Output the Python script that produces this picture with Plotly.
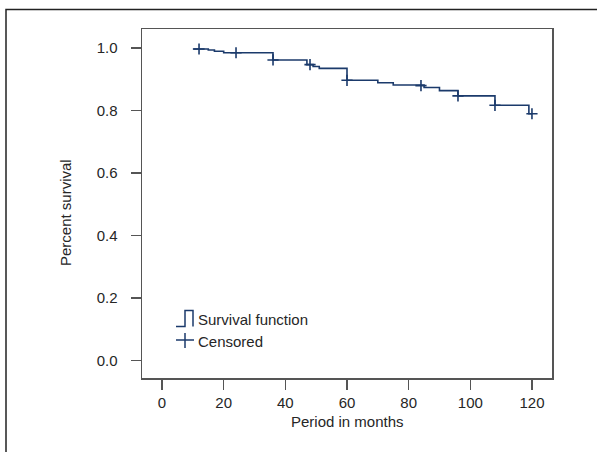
import plotly.graph_objects as go

# Kaplan-Meier step data (time in months, survival after the step)
step_times = [10, 15, 17, 20, 36, 47, 49, 51, 60, 70, 75, 85, 90, 96, 108, 119, 120]
step_surv = [0.996, 0.993, 0.989, 0.984, 0.961, 0.946, 0.940, 0.934, 0.896,
             0.888, 0.881, 0.873, 0.863, 0.846, 0.816, 0.789, 0.789]

# Censored observations
cens_times = [12, 24, 36, 48, 60, 84, 96, 108, 120]
cens_surv = [0.996, 0.984, 0.961, 0.946, 0.896, 0.879, 0.846, 0.816, 0.789]

x_ticks = [0, 20, 40, 60, 80, 100, 120]
y_ticks = [0.0, 0.2, 0.4, 0.6, 0.8, 1.0]
y_tick_labels = ["0.0", "0.2", "0.4", "0.6", "0.8", "1.0"]

legend_labels = ["Survival function", "Censored"]
x_title = "Period in months"
y_title = "Percent survival"

LINE = "#1b3a6b"
AXIS = "#555555"
TXT = "#262626"
FONT = "Liberation Sans Narrow, Liberation Sans, Arial, sans-serif"
FS = 15

fig = go.Figure()
fig.add_trace(go.Scatter(
    x=step_times, y=step_surv, mode="lines", line=dict(shape="hv", color=LINE, width=1.6),
    showlegend=False, hoverinfo="skip"))
fig.add_trace(go.Scatter(
    x=cens_times, y=cens_surv, mode="markers",
    marker=dict(symbol="cross-thin", size=8, line=dict(color=LINE, width=1.6)),
    showlegend=False, hoverinfo="skip"))

L, R, T, B = 142, 45, 29, 74
W, H = 597, 452
pw, ph = W - L - R, H - T - B

def px_x(p):
    return (p - L) / pw

def px_y(p):
    return (H - B - p) / ph

shapes = [
    # outer figure frame (left and top edges)
    dict(type="path", xref="paper", yref="paper",
         path=f"M {px_x(6)} {px_y(460)} L {px_x(6)} {px_y(9.5)} L {px_x(600)} {px_y(9.5)}",
         line=dict(color="#222222", width=1.5)),
    # legend icon: step
    dict(type="path", xref="paper", yref="paper",
         path=(f"M {px_x(176)} {px_y(326.5)} L {px_x(185)} {px_y(326.5)} L {px_x(185)} {px_y(310.5)} "
               f"L {px_x(193)} {px_y(310.5)} L {px_x(193)} {px_y(326.5)}"),
         line=dict(color=LINE, width=1.5)),
    # legend icon: censored plus
    dict(type="line", xref="paper", yref="paper", x0=px_x(176), x1=px_x(194), y0=px_y(340), y1=px_y(340),
         line=dict(color=LINE, width=1.5)),
    dict(type="line", xref="paper", yref="paper", x0=px_x(185), x1=px_x(185), y0=px_y(333), y1=px_y(348),
         line=dict(color=LINE, width=1.5)),
]

annotations = [
    dict(text=legend_labels[0], xref="paper", yref="paper", x=px_x(196), y=px_y(319.5),
         xanchor="left", yanchor="middle", showarrow=False, font=dict(size=FS, color=TXT, family=FONT)),
    dict(text=legend_labels[1], xref="paper", yref="paper", x=px_x(196), y=px_y(341),
         xanchor="left", yanchor="middle", showarrow=False, font=dict(size=FS, color=TXT, family=FONT)),
    dict(text=x_title, xref="paper", yref="paper", x=px_x(347), y=px_y(421),
         xanchor="center", yanchor="middle", showarrow=False, font=dict(size=FS, color=TXT, family=FONT)),
    dict(text=y_title, xref="paper", yref="paper", x=px_x(65), y=px_y(213), textangle=-90,
         xanchor="center", yanchor="middle", showarrow=False, font=dict(size=FS, color=TXT, family=FONT)),
]

fig.update_layout(
    width=W, height=H,
    margin=dict(l=L, r=R, t=T, b=B, pad=0),
    paper_bgcolor="white", plot_bgcolor="white",
    font=dict(family=FONT, size=FS, color=TXT),
    shapes=shapes, annotations=annotations,
    showlegend=False,
)
fig.update_xaxes(range=[-6.5, 126.5], tickvals=x_ticks, ticks="outside", ticklen=10, tickwidth=1.5,
                 tickcolor=AXIS, showline=True, linecolor=AXIS, linewidth=1.5, mirror=True,
                 showgrid=False, zeroline=False, ticklabelstandoff=0,
                 tickfont=dict(size=FS, color=TXT, family=FONT))
fig.update_yaxes(range=[-0.056, 1.06], tickvals=y_ticks, ticktext=y_tick_labels, ticks="outside",
                 ticklen=10, tickwidth=1.5, tickcolor=AXIS, showline=True, linecolor=AXIS, linewidth=1.5,
                 mirror=True, showgrid=False, zeroline=False, ticklabelstandoff=10,
                 tickfont=dict(size=FS, color=TXT, family=FONT))

fig.write_html("out.html", config={"displayModeBar": False, "staticPlot": True},
               post_script="document.body.style.margin='0';document.body.style.overflow='hidden';")
